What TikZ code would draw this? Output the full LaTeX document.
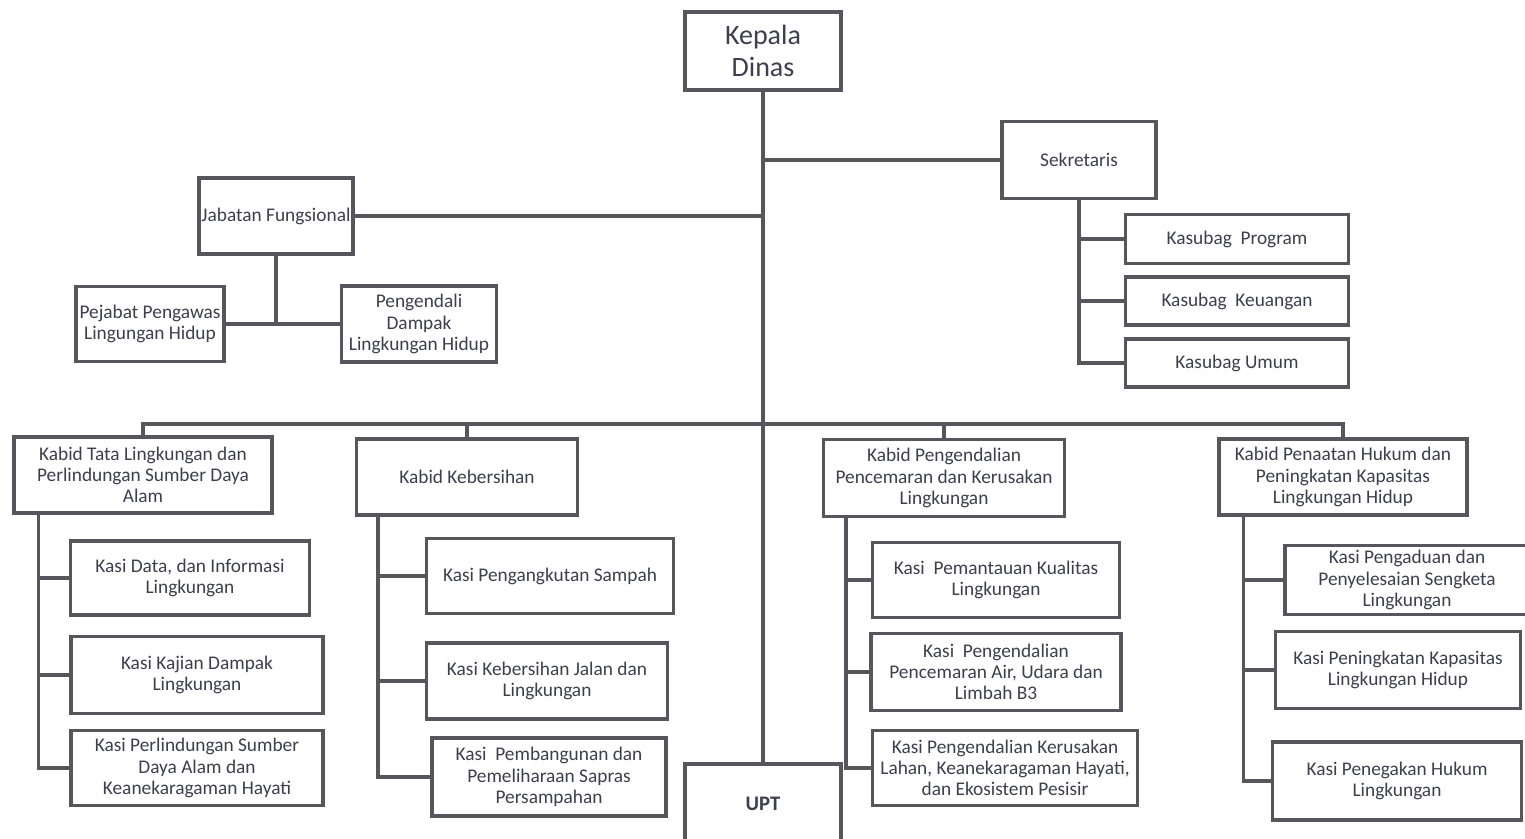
\documentclass[tikz,border=0pt]{standalone}
\usepackage{fontspec}
\setmainfont{Carlito}
\usepackage{tikz}

\definecolor{boxline}{RGB}{86,86,92}
\definecolor{boxtext}{RGB}{62,62,78}

\tikzset{
  unit/.style={draw=boxline, line width=2.6pt, fill=white, text=boxtext, align=center, inner sep=1pt,
    font=\fontsize{14.5}{16}\selectfont},
  sz/.style 2 args={minimum width=#1*0.75pt, minimum height=#2*0.75pt},
  link/.style={draw=boxline, line width=2.6pt},
}

\begin{document}
\begin{tikzpicture}[x=0.75pt,y=0.75pt,yscale=-1,xscale=1]
\useasboundingbox (0,0) rectangle (1525,839);

%Shape: Top [id:kepala]
\node [unit, sz={156}{78}, font=\fontsize{21}{23.5}\selectfont] (kepala) at (763,51) {Kepala\\Dinas};
%Shape: Sekretariat
\node [unit, sz={154}{77}] (sekretaris) at (1079,160) {Sekretaris};
\node [unit, sz={223}{49}] (kprog) at (1237,239) {Kasubag~~Program};
\node [unit, sz={223}{48}] (kkeu) at (1237,301) {Kasubag~~Keuangan};
\node [unit, sz={223}{48}] (kumum) at (1237,363) {Kasubag Umum};
%Shape: Jabatan Fungsional
\node [unit, sz={154}{76}] (jabfung) at (276,216) {Jabatan Fungsional};
\node [unit, sz={148}{75}] (pejabat) at (150,324) {Pejabat Pengawas\\Lingungan Hidup};
\node [unit, sz={155}{76}] (pengendali) at (419,324) {Pengendali\\Dampak\\Lingkungan Hidup};
%Shape: Kabid
\node [unit, sz={258}{76}] (kabid1) at (143,475) {Kabid Tata Lingkungan dan\\Perlindungan Sumber Daya\\Alam};
\node [unit, sz={221}{76}] (kabid2) at (467,477) {Kabid Kebersihan};
\node [unit, sz={241}{77}] (kabid3) at (944,478) {Kabid Pengendalian\\Pencemaran dan Kerusakan\\Lingkungan};
\node [unit, sz={248}{76}] (kabid4) at (1343,477) {Kabid Penaatan Hukum dan\\Peningkatan Kapasitas\\Lingkungan Hidup};
%Shape: Kasi column 1
\node [unit, sz={239}{74}] (k11) at (190,578) {Kasi Data, dan Informasi\\Lingkungan};
\node [unit, sz={252}{77}] (k12) at (197,675) {Kasi Kajian Dampak\\Lingkungan};
\node [unit, sz={252}{75}] (k13) at (197,768) {Kasi Perlindungan Sumber\\Daya Alam dan\\Keanekaragaman Hayati};
%Shape: Kasi column 2
\node [unit, sz={247}{75}] (k21) at (550,576) {Kasi Pengangkutan Sampah};
\node [unit, sz={241}{76}] (k22) at (547,681) {Kasi Kebersihan Jalan dan\\Lingkungan};
\node [unit, sz={234}{78}] (k23) at (549,777) {Kasi~~Pembangunan dan\\Pemeliharaan Sapras\\Persampahan};
%Shape: Kasi column 3
\node [unit, sz={247}{75}] (k31) at (996,580) {Kasi~~Pemantauan Kualitas\\Lingkungan};
\node [unit, sz={250}{77}] (k32) at (996,672) {Kasi~~Pengendalian\\Pencemaran Air, Udara dan\\Limbah B3};
\node [unit, sz={265}{75}] (k33) at (1005,768) {Kasi Pengendalian Kerusakan\\Lahan, Keanekaragaman Hayati,\\dan Ekosistem Pesisir};
%Shape: Kasi column 4
\node [unit, sz={244}{69}] (k41) at (1407,580) {Kasi Pengaduan dan\\Penyelesaian Sengketa\\Lingkungan};
\node [unit, sz={245}{77}] (k42) at (1398,670) {Kasi Peningkatan Kapasitas\\Lingkungan Hidup};
\node [unit, sz={249}{78}] (k43) at (1397,781) {Kasi Penegakan Hukum\\Lingkungan};
%Shape: UPT
\node [unit, sz={156}{80}, font=\fontsize{15.5}{18}\selectfont\bfseries] (upt) at (763,804) {UPT};

%Straight Lines: trunk and upper branches
\coordinate (bus) at (763,424);
\draw [link] (kepala.south) -- (upt.north);
\draw [link] (sekretaris.west) -- (sekretaris.west -| kepala.south);
\draw [link] (jabfung.east) -- (jabfung.east -| kepala.south);
\draw [link] (jabfung.south) -- (jabfung.south |- pejabat.east);
\draw [link] (pejabat.east) -- (pengendali.west);
%Straight Lines: sekretariat
\draw [link] (sekretaris.south) |- (kumum.west);
\draw [link] (kprog.west) -- (kprog.west -| sekretaris.south);
\draw [link] (kkeu.west) -- (kkeu.west -| sekretaris.south);
%Straight Lines: bus to kabid
\draw [link] (kabid1.north) |- (bus) -| (kabid4.north);
\draw [link] (kabid2.north) -- (kabid2.north |- bus);
\draw [link] (kabid3.north) -- (kabid3.north |- bus);
%Straight Lines: kabid to kasi
\path (kabid1.south west) ++(26,0) coordinate (s1);
\path (kabid2.south west) ++(23,0) coordinate (s2);
\path (kabid3.south west) ++(24,0) coordinate (s3);
\path (kabid4.south west) ++(26,0) coordinate (s4);
\draw [link] (s1) |- (k13.west);
\draw [link] (k11.west) -- (k11.west -| s1);
\draw [link] (k12.west) -- (k12.west -| s1);
\draw [link] (s2) |- (k23.west);
\draw [link] (k21.west) -- (k21.west -| s2);
\draw [link] (k22.west) -- (k22.west -| s2);
\draw [link] (s3) |- (k33.west);
\draw [link] (k31.west) -- (k31.west -| s3);
\draw [link] (k32.west) -- (k32.west -| s3);
\draw [link] (s4) |- (k43.west);
\draw [link] (k41.west) -- (k41.west -| s4);
\draw [link] (k42.west) -- (k42.west -| s4);

\end{tikzpicture}
\end{document}
